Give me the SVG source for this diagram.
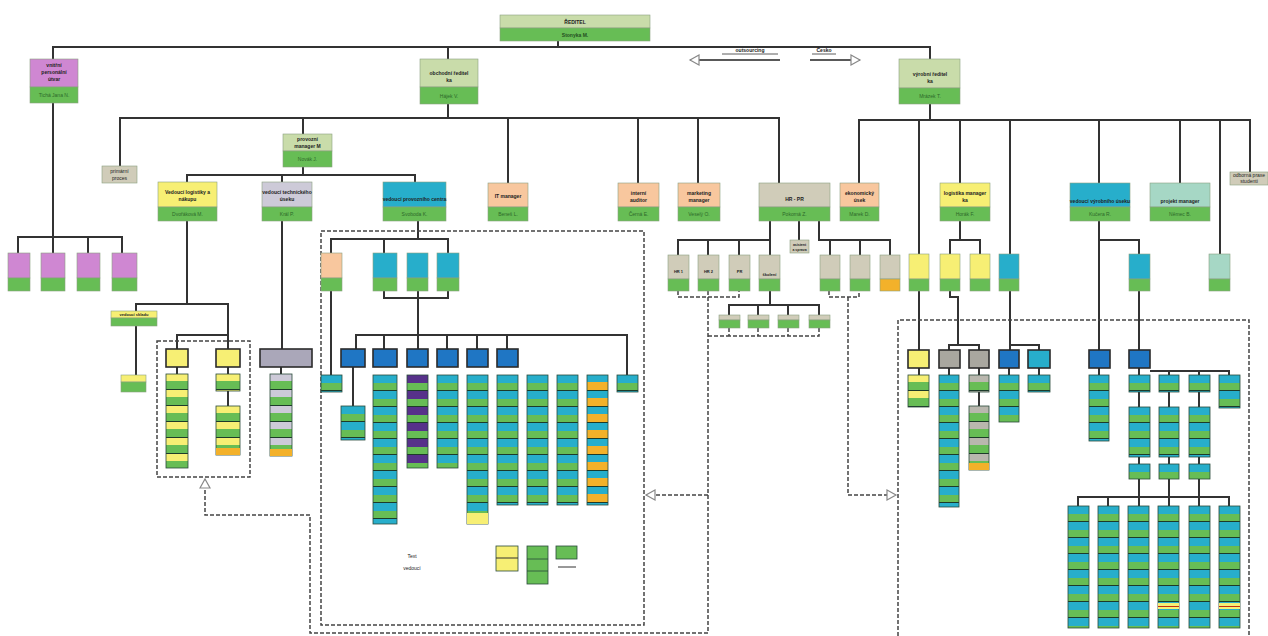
<svg xmlns="http://www.w3.org/2000/svg" width="1268" height="636" viewBox="0 0 1268 636">
<style>
.lt{fill:#c9dcaa}.gr{fill:#67bd55}.mg{fill:#cf87d2}.ye{fill:#f7ef74}.pe{fill:#f8c79e}.te{fill:#27aecb}.gy{fill:#d0ccb9}.li{fill:#cdcad8}.mi{fill:#a6d7c5}.bl{fill:#1f76c4}.or{fill:#f3b12a}.dg{fill:#a9a79f}
.b{stroke:#8aa080;stroke-width:0.6}
.dk{stroke:#2b2b2b;stroke-width:1.6}
.t{font-family:"Liberation Sans",Arial,sans-serif;font-size:5px;font-weight:bold;fill:#222;text-anchor:middle}
.tg{font-family:"Liberation Sans",Arial,sans-serif;font-size:5px;fill:#2d6a2a;text-anchor:middle}
.c{fill:none;stroke:#333;stroke-width:2}
.d{fill:none;stroke:#444;stroke-width:1.5;stroke-dasharray:4 2}
.st{stroke:#2a4a3a;stroke-width:0.8}
</style>
<defs>
<marker id="ha" markerWidth="12" markerHeight="12" refX="10" refY="6" orient="auto" markerUnits="userSpaceOnUse"><path d="M1,1 L10,6 L1,11 Z" fill="#fff" stroke="#888" stroke-width="1.2"/></marker>
<pattern id="pT" width="40" height="16" patternUnits="userSpaceOnUse"><rect width="40" height="8" fill="#27aecb"/><rect y="8" width="40" height="8" fill="#67bd55"/><rect y="15" width="40" height="1.2" fill="#1d3b2a"/></pattern>
<pattern id="pY" width="40" height="16" patternUnits="userSpaceOnUse"><rect width="40" height="7" fill="#f7ef74"/><rect y="7" width="40" height="9" fill="#67bd55"/><rect y="15" width="40" height="1.2" fill="#1d3b2a"/></pattern>
<pattern id="pP" width="40" height="16" patternUnits="userSpaceOnUse"><rect width="40" height="8" fill="#57318a"/><rect y="8" width="40" height="8" fill="#67bd55"/><rect y="15" width="40" height="1.2" fill="#1d3b2a"/></pattern>
<pattern id="pL" width="40" height="16" patternUnits="userSpaceOnUse"><rect width="40" height="7" fill="#cdcad8"/><rect y="7" width="40" height="9" fill="#67bd55"/><rect y="15" width="40" height="1.2" fill="#1d3b2a"/></pattern>
<pattern id="pG" width="40" height="16" patternUnits="userSpaceOnUse"><rect width="40" height="7" fill="#b9b7ae"/><rect y="7" width="40" height="9" fill="#67bd55"/><rect y="15" width="40" height="1.2" fill="#1d3b2a"/></pattern>
<pattern id="pO" width="40" height="16" patternUnits="userSpaceOnUse"><rect width="40" height="7" fill="#27aecb"/><rect y="7" width="40" height="9" fill="#f3b12a"/><rect y="15" width="40" height="1.2" fill="#1d3b2a"/></pattern>
</defs>
<rect width="1268" height="636" fill="#fff"/>

<g id="connectors">
<path class="c" d="M558 41V47M53 60V47H930V60M448 47V60"/>
<path class="c" d="M53 103V237M18 253V237H122V253M88 237V253M53 237V253"/>
<path class="c" d="M448 104V118M120 166V118H779V183M303 118V134M508 118V183M638 118V183M698 118V183"/>
<path class="c" d="M930 104V120M859 183V120H1250V172M919 120V254M960 120V183M1010 120V254M1099 120V183M1180 120V183M1220 120V254"/>
<path class="c" d="M303 167V175M187 182V175H415V182M282 175V182"/>
<path class="c" d="M187 221V304M136 311V304H228V349M177 349V335H228M136 326V375M177 367V374M228 367V374M228 391V406"/>
<path class="c" d="M282 221V349M281 367V374"/>
<path class="c" d="M418 221V239M331 253V239H448V253M384 239V253M384 291V298H448V291M418 291V335M356 349V335H627V375M384 335V349M418 335V349M447 335V349M477 335V349M507 335V349M331 291V375M353 367V406"/>
<path class="c" d="M770 221V240M678 255V240H770V255M708 240V255M739 240V255M799 221V240M819 221V240H890V255M830 240V255M860 240V255M770 291V305M729 315V305H819V315M758 305V315M788 305V315"/>
<path class="c" d="M919 291V350M919 368V375"/>
<path class="c" d="M960 221V240M950 254V240H980V254M950 291V297H958V345M949 350V345H979V350M949 368V375M979 368V375M979 392V406"/>
<path class="c" d="M1010 291V350M1010 345H1039V350M1009 368V375M1039 368V375"/>
<path class="c" d="M1099 221V350M1099 240H1139V254M1139 291V350M1099 368V375M1139 368V375M1150 371H1229V375M1169 371V375M1199 371V375M1139 392V407M1169 392V407M1199 392V407M1139 457V464M1169 457V464M1199 457V464M1139 479V506M1169 479V506M1199 479V506M1078 506V497H1229V506M1108 497V506"/>
<rect class="d" x="321" y="231" width="323" height="394"/>
<rect class="d" x="157" y="341" width="93" height="136"/>
<path class="d" d="M898 636V320H1249V636"/>
<path class="d" d="M678 291V297H739V291M708 291V297M708 297V633H310V515H205V479" marker-end="url(#ha)"/>
<path class="d" d="M708 495H646" marker-end="url(#ha)"/>
<path class="d" d="M729 328V336H819V328M758 328V336M788 328V336M708 336H729"/>
<path class="d" d="M829 291V297H859V291M848 297V495H896" marker-end="url(#ha)"/>
<path fill="none" stroke="#222" stroke-width="1.6" d="M780 60H690" marker-end="url(#ha)"/>
<path fill="none" stroke="#222" stroke-width="1.6" d="M810 60H860" marker-end="url(#ha)"/>
<path fill="none" stroke="#333" stroke-width="0.8" d="M722 54H778M812 54H836"/>
<text class="t" x="750" y="52">outsourcing</text>
<text class="t" x="824" y="52">Česko</text>
</g>

<g id="n-top"><rect class="lt b" x="500" y="15" width="150" height="13"/><rect class="gr b" x="500" y="28" width="150" height="13"/><text class="t" x="575" y="24">ŘEDITEL</text><text class="tg" x="575" y="37" style="font-weight:bold;fill:#24501f">Stonyka M.</text></g>
<g id="n-left"><rect class="mg b" x="30" y="59" width="48" height="28"/><rect class="gr b" x="30" y="87" width="48" height="16"/><text class="t" x="54" y="67">vnitřní</text><text class="t" x="54" y="74">personální</text><text class="t" x="54" y="81">útvar</text><text class="tg" x="54" y="97">Tichá Jana N.</text></g>
<g id="n-mid"><rect class="lt b" x="420" y="59" width="58" height="28"/><rect class="gr b" x="420" y="87" width="58" height="17"/><text class="t" x="449" y="75">obchodní ředitel</text><text class="t" x="449" y="82">ka</text><text class="tg" x="449" y="98">Hájek V.</text></g>
<g id="n-right"><rect class="lt b" x="899" y="59" width="61" height="29"/><rect class="gr b" x="899" y="88" width="61" height="16"/><text class="t" x="930" y="76">výrobní ředitel</text><text class="t" x="930" y="83">ka</text><text class="tg" x="930" y="98">Mrázek T.</text></g>

<g id="n-mg1"><rect class="mg b" x="8" y="253" width="22" height="25"/><rect class="gr b" x="8" y="278" width="22" height="13"/></g>
<g id="n-mg2"><rect class="mg b" x="41" y="253" width="24" height="25"/><rect class="gr b" x="41" y="278" width="24" height="13"/></g>
<g id="n-mg3"><rect class="mg b" x="77" y="253" width="23" height="25"/><rect class="gr b" x="77" y="278" width="23" height="13"/></g>
<g id="n-mg4"><rect class="mg b" x="112" y="253" width="25" height="25"/><rect class="gr b" x="112" y="278" width="25" height="13"/></g>

<g id="n-primary"><rect class="gy b" x="102" y="166" width="35" height="17"/><text class="t" x="119.5" y="173" style="font-weight:normal">primární</text><text class="t" x="119.5" y="180" style="font-weight:normal">proces</text></g>
<g id="n-provoz"><rect class="lt b" x="283" y="134" width="49" height="17"/><rect class="gr b" x="283" y="151" width="49" height="16"/><text class="t" x="307.5" y="141">provozní</text><text class="t" x="307.5" y="148">manager M</text><text class="tg" x="307.5" y="161">Novák J.</text></g>
<g id="n-log"><rect class="ye b" x="158" y="182" width="59" height="25"/><rect class="gr b" x="158" y="207" width="59" height="14"/><text class="t" x="187.5" y="194">Vedoucí logistiky a</text><text class="t" x="187.5" y="201">nákupu</text><text class="tg" x="187.5" y="216">Dvořáková M.</text></g>
<g id="n-tech"><rect class="li b" x="262" y="182" width="50" height="25"/><rect class="gr b" x="262" y="207" width="50" height="14"/><text class="t" x="287" y="194">vedoucí technického</text><text class="t" x="287" y="201">úseku</text><text class="tg" x="287" y="216">Král P.</text></g>
<g id="n-centrum"><rect class="te b" x="383" y="182" width="63" height="25"/><rect class="gr b" x="383" y="207" width="63" height="14"/><text class="t" x="414.5" y="201">vedoucí provozního centra</text><text class="tg" x="414.5" y="216">Svoboda K.</text></g>
<g id="n-it"><rect class="pe b" x="488" y="183" width="40" height="24"/><rect class="gr b" x="488" y="207" width="40" height="14"/><text class="t" x="508" y="198">IT manager</text><text class="tg" x="508" y="216">Beneš L.</text></g>
<g id="n-audit"><rect class="pe b" x="618" y="183" width="41" height="24"/><rect class="gr b" x="618" y="207" width="41" height="14"/><text class="t" x="638.5" y="195">interní</text><text class="t" x="638.5" y="202">auditor</text><text class="tg" x="638.5" y="216">Černá E.</text></g>
<g id="n-mkt"><rect class="pe b" x="678" y="183" width="42" height="24"/><rect class="gr b" x="678" y="207" width="42" height="14"/><text class="t" x="699" y="195">marketing</text><text class="t" x="699" y="202">manager</text><text class="tg" x="699" y="216">Veselý O.</text></g>
<g id="n-hr"><rect class="gy b" x="759" y="183" width="71" height="24"/><rect class="gr b" x="759" y="207" width="71" height="14"/><text class="t" x="794.5" y="201">HR - PR</text><text class="tg" x="794.5" y="216">Pokorná Z.</text></g>
<g id="n-eko"><rect class="pe b" x="840" y="183" width="39" height="24"/><rect class="gr b" x="840" y="207" width="39" height="14"/><text class="t" x="859.5" y="195">ekonomický</text><text class="t" x="859.5" y="202">úsek</text><text class="tg" x="859.5" y="216">Marek D.</text></g>
<g id="n-logman"><rect class="ye b" x="940" y="183" width="50" height="24"/><rect class="gr b" x="940" y="207" width="50" height="14"/><text class="t" x="965" y="195">logistika manager</text><text class="t" x="965" y="202">ka</text><text class="tg" x="965" y="216">Horák F.</text></g>
<g id="n-vyroba"><rect class="te b" x="1070" y="183" width="60" height="24"/><rect class="gr b" x="1070" y="207" width="60" height="14"/><text class="t" x="1100" y="203">vedoucí výrobního úseku</text><text class="tg" x="1100" y="216">Kučera R.</text></g>
<g id="n-projekt"><rect class="mi b" x="1150" y="183" width="60" height="24"/><rect class="gr b" x="1150" y="207" width="60" height="14"/><text class="t" x="1180" y="203">projekt manager</text><text class="tg" x="1180" y="216">Němec B.</text></g>
<g id="n-praxe"><rect class="gy b" x="1230" y="172" width="38" height="13"/><text class="t" x="1249" y="177" style="font-weight:normal">odborná praxe</text><text class="t" x="1249" y="183" style="font-weight:normal">studenti</text></g>

<g id="n-ylead"><rect class="ye b" x="111" y="311" width="46" height="7"/><rect class="gr b" x="111" y="318" width="46" height="8"/><text class="t" x="134" y="316" style="font-size:4px">vedoucí skladu</text></g>
<g id="n-ysmall"><rect class="ye b" x="121" y="375" width="25" height="7"/><rect class="gr b" x="121" y="382" width="25" height="10"/></g>
<g id="n-yA"><rect class="ye dk" x="166" y="349" width="22" height="18"/></g>
<g id="n-yB"><rect class="ye dk" x="216" y="349" width="24" height="18"/></g>
<g id="s-yA" transform="translate(166,374)"><rect class="st" width="22" height="94" fill="url(#pY)"/></g>
<g id="s-yB1" transform="translate(216,374)"><rect class="st" width="24" height="17" fill="url(#pY)"/></g>
<g id="s-yB2" transform="translate(216,406)"><rect class="st" width="24" height="49" fill="url(#pY)"/><rect class="or" y="42" width="24" height="7"/></g>
<g id="n-tbox"><rect class="li dk" x="260" y="349" width="52" height="18" style="fill:#aaa7b9"/></g>
<g id="s-tech" transform="translate(270,374)"><rect class="st" width="22" height="82" fill="url(#pL)"/><rect class="or" y="75" width="22" height="7"/></g>

<g id="n-c-or"><rect class="pe b" x="321" y="253" width="21" height="25"/><rect class="gr b" x="321" y="278" width="21" height="13"/></g>
<g id="n-c-t1"><rect class="te b" x="373" y="253" width="24" height="25"/><rect class="gr b" x="373" y="278" width="24" height="13"/></g>
<g id="n-c-t2"><rect class="te b" x="407" y="253" width="21" height="25"/><rect class="gr b" x="407" y="278" width="21" height="13"/></g>
<g id="n-c-t3"><rect class="te b" x="437" y="253" width="22" height="25"/><rect class="gr b" x="437" y="278" width="22" height="13"/></g>
<g id="n-c-b1"><rect class="bl dk" x="341" y="349" width="24" height="18"/></g>
<g id="n-c-b2"><rect class="bl dk" x="373" y="349" width="24" height="18"/></g>
<g id="n-c-b3"><rect class="bl dk" x="407" y="349" width="21" height="18"/></g>
<g id="n-c-b4"><rect class="bl dk" x="437" y="349" width="21" height="18"/></g>
<g id="n-c-b5"><rect class="bl dk" x="467" y="349" width="21" height="18"/></g>
<g id="n-c-b6"><rect class="bl dk" x="497" y="349" width="21" height="18"/></g>
<g id="s-c-or" transform="translate(321,375)"><rect class="st" width="21" height="17" fill="url(#pT)"/></g>
<g id="s-c-b1" transform="translate(341,406)"><rect class="st" width="24" height="34" fill="url(#pT)"/></g>
<g id="s-c1" transform="translate(373,375)"><rect class="st" width="24" height="149" fill="url(#pT)"/></g>
<g id="s-c2" transform="translate(407,375)"><rect class="st" width="21" height="93" fill="url(#pP)"/></g>
<g id="s-c3" transform="translate(437,375)"><rect class="st" width="21" height="93" fill="url(#pT)"/></g>
<g id="s-c4" transform="translate(467,375)"><rect class="st" width="21" height="149" fill="url(#pT)"/><rect class="ye" y="138" width="21" height="11"/></g>
<g id="s-c5" transform="translate(497,375)"><rect class="st" width="21" height="130" fill="url(#pT)"/></g>
<g id="s-c6" transform="translate(527,375)"><rect class="st" width="21" height="130" fill="url(#pT)"/></g>
<g id="s-c7" transform="translate(557,375)"><rect class="st" width="21" height="130" fill="url(#pT)"/></g>
<g id="s-c8" transform="translate(587,375)"><rect class="st" width="21" height="130" fill="url(#pO)"/></g>
<g id="s-c9" transform="translate(617,375)"><rect class="st" width="21" height="17" fill="url(#pT)"/></g>

<g id="legend">
<text class="t" x="412" y="558" style="font-weight:normal">Text</text>
<text class="t" x="412" y="570" style="font-weight:normal">vedoucí</text>
<rect class="ye st" x="496" y="546" width="22" height="25"/><path d="M496 558H518" stroke="#333" stroke-width="1"/>
<rect class="gr st" x="527" y="546" width="21" height="38"/><path d="M527 559H548M527 571H548" stroke="#2a4a3a" stroke-width="0.8"/>
<rect class="gr st" x="556" y="546" width="21" height="13"/><path d="M558 567H576" stroke="#333" stroke-width="1"/>
</g>

<g id="n-hr1"><rect class="gy b" x="668" y="255" width="21" height="24"/><rect class="gr b" x="668" y="279" width="21" height="12"/><text class="t" x="678.5" y="273" style="font-size:4px">HR 1</text></g>
<g id="n-hr2"><rect class="gy b" x="698" y="255" width="21" height="24"/><rect class="gr b" x="698" y="279" width="21" height="12"/><text class="t" x="708.5" y="273" style="font-size:4px">HR 2</text></g>
<g id="n-hr3"><rect class="gy b" x="729" y="255" width="21" height="24"/><rect class="gr b" x="729" y="279" width="21" height="12"/><text class="t" x="739.5" y="273" style="font-size:4px">PR</text></g>
<g id="n-hr4"><rect class="gy b" x="759" y="255" width="21" height="24"/><rect class="gr b" x="759" y="279" width="21" height="12"/><text class="t" x="769.5" y="276" style="font-size:4px">školení</text></g>
<g id="n-hr5"><rect class="gy b" x="820" y="255" width="20" height="24"/><rect class="gr b" x="820" y="279" width="20" height="12"/></g>
<g id="n-hr6"><rect class="gy b" x="850" y="255" width="20" height="24"/><rect class="gr b" x="850" y="279" width="20" height="12"/></g>
<g id="n-hr7"><rect class="gy b" x="880" y="255" width="20" height="24"/><rect class="or b" x="880" y="279" width="20" height="12"/></g>
<g id="n-hrlab"><rect class="gy b" x="790" y="240" width="19" height="13"/><text class="t" x="799.5" y="246" style="font-size:3.5px">asistent</text><text class="t" x="799.5" y="251" style="font-size:3.5px">a sprava</text></g>
<g id="n-hs1"><rect class="gy b" x="719" y="315" width="21" height="5"/><rect class="gr b" x="719" y="320" width="21" height="8"/></g>
<g id="n-hs2"><rect class="gy b" x="748" y="315" width="21" height="5"/><rect class="gr b" x="748" y="320" width="21" height="8"/></g>
<g id="n-hs3"><rect class="gy b" x="778" y="315" width="21" height="5"/><rect class="gr b" x="778" y="320" width="21" height="8"/></g>
<g id="n-hs4"><rect class="gy b" x="809" y="315" width="21" height="5"/><rect class="gr b" x="809" y="320" width="21" height="8"/></g>

<g id="n-r-y1"><rect class="ye b" x="909" y="254" width="20" height="25"/><rect class="gr b" x="909" y="279" width="20" height="12"/></g>
<g id="n-r-y2"><rect class="ye b" x="940" y="254" width="20" height="25"/><rect class="gr b" x="940" y="279" width="20" height="12"/></g>
<g id="n-r-y3"><rect class="ye b" x="970" y="254" width="20" height="25"/><rect class="gr b" x="970" y="279" width="20" height="12"/></g>
<g id="n-r-t1"><rect class="te b" x="999" y="254" width="20" height="25"/><rect class="gr b" x="999" y="279" width="20" height="12"/></g>
<g id="n-r-t2"><rect class="te b" x="1129" y="254" width="21" height="25"/><rect class="gr b" x="1129" y="279" width="21" height="12"/></g>
<g id="n-r-m1"><rect class="mi b" x="1209" y="254" width="21" height="25"/><rect class="gr b" x="1209" y="279" width="21" height="12"/></g>

<g id="n-r-dy"><rect class="ye dk" x="908" y="350" width="21" height="18"/></g>
<g id="n-r-dg1"><rect class="dg dk" x="939" y="350" width="21" height="18"/></g>
<g id="n-r-dg2"><rect class="dg dk" x="969" y="350" width="20" height="18"/></g>
<g id="n-r-db1"><rect class="bl dk" x="999" y="350" width="20" height="18"/></g>
<g id="n-r-dt"><rect class="te dk" x="1028" y="350" width="22" height="18"/></g>
<g id="n-r-db2"><rect class="bl dk" x="1089" y="350" width="21" height="18"/></g>
<g id="n-r-db3"><rect class="bl dk" x="1129" y="350" width="21" height="18"/></g>
<g id="s-r1" transform="translate(908,375)"><rect class="st" width="21" height="32" fill="url(#pY)"/></g>
<g id="s-r2" transform="translate(939,375)"><rect class="st" width="20" height="132" fill="url(#pT)"/></g>
<g id="s-r3a" transform="translate(969,375)"><rect class="st" width="20" height="17" fill="url(#pG)"/></g>
<g id="s-r3b" transform="translate(969,406)"><rect class="st" width="20" height="64" fill="url(#pG)"/><rect class="or" y="57" width="20" height="7"/></g>
<g id="s-r4" transform="translate(999,375)"><rect class="st" width="20" height="47" fill="url(#pT)"/></g>
<g id="s-r5" transform="translate(1028,375)"><rect class="st" width="22" height="17" fill="url(#pT)"/></g>
<g id="s-r6" transform="translate(1089,375)"><rect class="st" width="20" height="66" fill="url(#pT)"/></g>
<g id="s-r7a" transform="translate(1129,375)"><rect class="st" width="21" height="17" fill="url(#pT)"/></g>
<g id="s-r8a" transform="translate(1159,375)"><rect class="st" width="20" height="17" fill="url(#pT)"/></g>
<g id="s-r9a" transform="translate(1189,375)"><rect class="st" width="21" height="17" fill="url(#pT)"/></g>
<g id="s-r10" transform="translate(1219,375)"><rect class="st" width="21" height="33" fill="url(#pT)"/></g>
<g id="s-r7b" transform="translate(1129,407)"><rect class="st" width="21" height="50" fill="url(#pT)"/></g>
<g id="s-r8b" transform="translate(1159,407)"><rect class="st" width="20" height="50" fill="url(#pT)"/></g>
<g id="s-r9b" transform="translate(1189,407)"><rect class="st" width="21" height="50" fill="url(#pT)"/></g>
<g id="s-r7c" transform="translate(1129,464)"><rect class="st" width="21" height="15" fill="url(#pT)"/></g>
<g id="s-r8c" transform="translate(1159,464)"><rect class="st" width="20" height="15" fill="url(#pT)"/></g>
<g id="s-r9c" transform="translate(1189,464)"><rect class="st" width="21" height="15" fill="url(#pT)"/></g>
<g id="s-b1" transform="translate(1068,506)"><rect class="st" width="21" height="122" fill="url(#pT)"/></g>
<g id="s-b2" transform="translate(1098,506)"><rect class="st" width="21" height="122" fill="url(#pT)"/></g>
<g id="s-b3" transform="translate(1128,506)"><rect class="st" width="21" height="122" fill="url(#pT)"/></g>
<g id="s-b4" transform="translate(1158,506)"><rect class="st" width="21" height="122" fill="url(#pT)"/><rect class="ye" y="97" width="21" height="6"/><rect y="100" width="21" height="1" fill="#c03010"/></g>
<g id="s-b5" transform="translate(1189,506)"><rect class="st" width="21" height="122" fill="url(#pT)"/></g>
<g id="s-b6" transform="translate(1219,506)"><rect class="st" width="21" height="122" fill="url(#pT)"/><rect class="ye" y="97" width="21" height="6"/><rect y="100" width="21" height="1" fill="#c03010"/></g>
</svg>
